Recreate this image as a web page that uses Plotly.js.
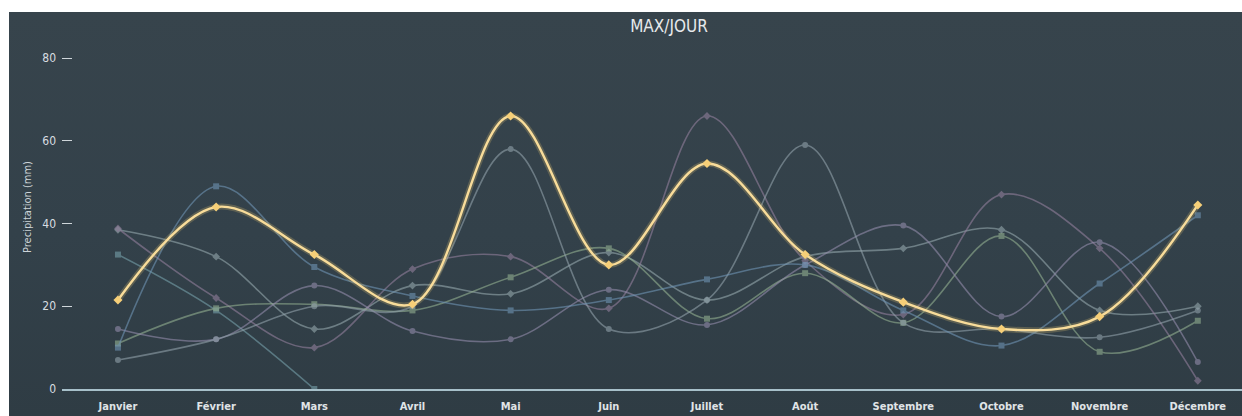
<!DOCTYPE html>
<html>
<head>
<meta charset="utf-8">
<script src="https://cdn.plot.ly/plotly-3.0.1.min.js"></script>
<style>
html,body{margin:0;padding:0;background:#ffffff;width:1242px;height:416px;overflow:hidden;}
#chart{position:absolute;left:9px;top:12px;width:1233px;height:404px;
  background:linear-gradient(180deg,#37444c 0%,#33414a 55%,#2f3c44 100%);}
</style>
</head>
<body>
<div id="chart"></div>
<script>
const months = ["Janvier","Février","Mars","Avril","Mai","Juin","Juillet","Août","Septembre","Octobre","Novembre","Décembre"];
const yTicks = [0,20,40,60,80];

const serieHighlight = [21.5,44,32.5,20.5,66,30,54.5,32.5,21,14.5,17.5,44.5];
const serieA = [10,49,29.5,22.5,19,21.5,26.5,30,19,10.5,25.5,42];
const serieC = [38.5,32,14.5,25,23,33,21.5,32,34,38.5,19,20];
const serieD = [32.5,19,0,null,null,null,null,null,null,null,null,null];
const serieE = [38.8,22,10,29,32,19.5,66,31,18,47,34,2];
const serieF = [11,19.5,20.5,19,27,34,17,28,16,37,9,16.5];
const serieG = [14.5,12,25,14,12,24,15.5,30,39.5,17.5,35.5,6.5];
const serieH = [7,12,20,20,58,14.5,21.5,59,16,14.5,12.5,19];

function faint(y, color, symbol){
  return {x: months, y: y, type:'scatter', mode:'lines+markers',
    line:{shape:'spline', smoothing:1, color:color, width:1.6},
    marker:{symbol:symbol, size:6, color:color},
    connectgaps:false, hoverinfo:'skip', opacity:0.6};
}

const data = [
  faint(serieD, '#76a0aa', 'square'),
  faint(serieC, '#95a8ad', 'diamond'),
  faint(serieE, '#927f9c', 'diamond'),
  faint(serieF, '#93b091', 'square'),
  faint(serieG, '#938cab', 'circle'),
  faint(serieH, '#91a1aa', 'circle'),
  faint(serieA, '#6f94b4', 'square'),
  {x: months, y: serieHighlight, type:'scatter', mode:'lines',
   line:{shape:'spline', smoothing:1, color:'rgba(247,210,120,0.22)', width:6}, hoverinfo:'skip'},
  {x: months, y: serieHighlight, type:'scatter', mode:'lines+markers',
   line:{shape:'spline', smoothing:1, color:'#f8dc9a', width:2.4},
   marker:{symbol:'diamond', size:7, color:'#f6cf78'}, hoverinfo:'skip'}
];

const fontFam = "'Liberation Sans Narrow','DejaVu Sans Condensed','Open Sans',sans-serif";

const layout = {
  width:1233, height:404,
  margin:{l:53, r:0, t:13, b:27},
  paper_bgcolor:'rgba(0,0,0,0)', plot_bgcolor:'rgba(0,0,0,0)',
  showlegend:false,
  title:{text:'MAX/JOUR', x:(669-9)/1233, xanchor:'center', y:1-(14)/404, yanchor:'middle',
         font:{family:fontFam, size:17, color:'#e6e9eb'}},
  xaxis:{type:'category', range:[-0.57, 11.45], showgrid:false, zeroline:false,
         showline:true, linecolor:'#a7c0ca', linewidth:2, ticks:'', ticklabelstandoff:6,
         tickfont:{family:fontFam, size:11, color:'#e0e4e7', weight:'bold'}, fixedrange:true},
  yaxis:{range:[0,88], tickvals:yTicks, ticktext:yTicks.map(String), showgrid:false, zeroline:false,
         showline:false, ticks:'inside', ticklen:10, tickwidth:1, tickcolor:'#cfd6da',
         ticklabelstandoff:5,
         tickfont:{family:fontFam, size:12, color:'#d8dde0'},
         title:{text:'Precipitation (mm)', font:{family:fontFam, size:11, color:'#cdd4d8'}, standoff:8},
         fixedrange:true}
};

Plotly.newPlot('chart', data, layout, {displayModeBar:false, staticPlot:true});
</script>
</body>
</html>
